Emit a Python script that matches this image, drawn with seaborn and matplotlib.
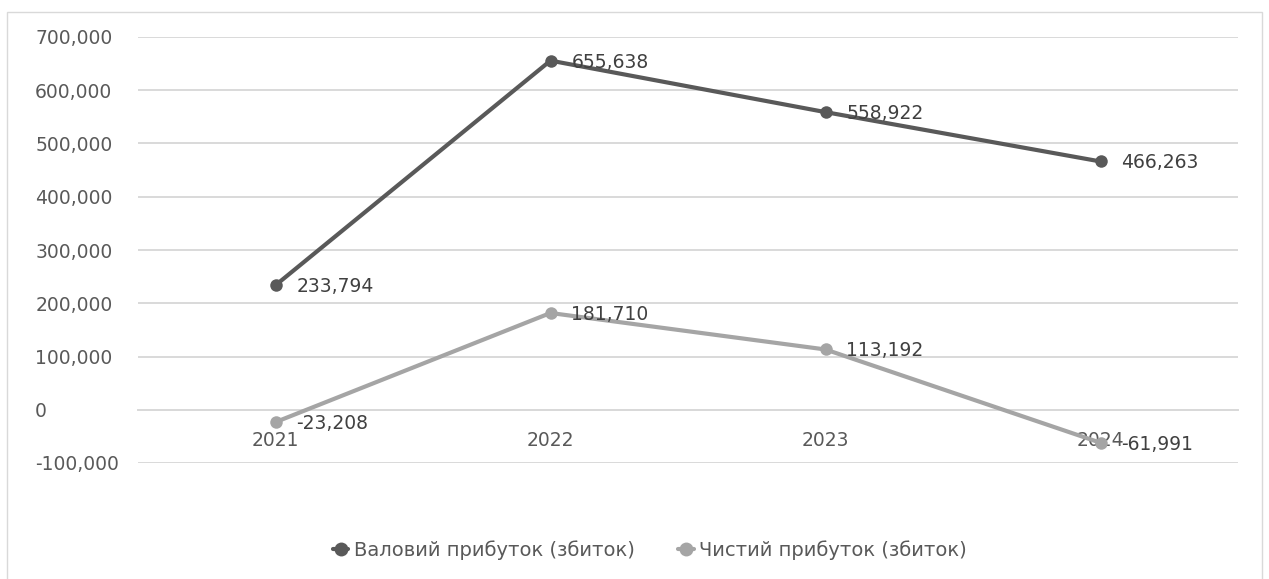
import matplotlib
matplotlib.use("Agg")
import matplotlib.pyplot as plt
import matplotlib.ticker as mticker
from matplotlib.patches import Rectangle
import seaborn as sns
import pandas as pd

years = ["2021", "2022", "2023", "2024"]
gross_profit = [233794, 655638, 558922, 466263]
net_profit = [-23208, 181710, 113192, -61991]
series_names = ["Валовий прибуток (збиток)", "Чистий прибуток (збиток)"]
y_ticks = [-100000, 0, 100000, 200000, 300000, 400000, 500000, 600000, 700000]

df = pd.DataFrame({
    "year": years * 2,
    "value": gross_profit + net_profit,
    "series": [series_names[0]] * 4 + [series_names[1]] * 4,
})
df["x"] = list(range(4)) * 2

sns.set_theme(style="white")
plt.rcParams["font.family"] = ["DejaVu Sans"]

colors = ["#595959", "#A5A5A5"]
fig = plt.figure(figsize=(12.69, 5.79), dpi=100)
ax = fig.add_axes([138 / 1269, 1 - 463 / 579, 1100 / 1269, 426 / 579])

sns.lineplot(data=df, x="x", y="value", hue="series", palette=colors,
             marker="o", markersize=9, markeredgewidth=0, linewidth=3,
             ax=ax, legend=False, zorder=3)

ax.set_xlim(-0.5, 3.5)
ax.set_ylim(-100000, 700000)
ax.set_yticks(y_ticks)
ax.yaxis.set_major_formatter(mticker.FuncFormatter(lambda v, p: f"{int(v):,}"))
ax.set_xticks(range(4))
ax.set_xticklabels(years)
ax.set_xlabel("")
ax.set_ylabel("")
ax.grid(axis="y", color="#D9D9D9", linewidth=1.4, zorder=0)
ax.grid(axis="x", visible=False)
for s in ["top", "right", "left"]:
    ax.spines[s].set_visible(False)
ax.spines["bottom"].set_position(("data", 0))
ax.spines["bottom"].set_color("#D9D9D9")
ax.spines["bottom"].set_linewidth(1.4)
ax.tick_params(axis="x", length=0, pad=15, labelsize=13.5, labelcolor="#595959")
ax.tick_params(axis="y", length=0, pad=74, labelsize=13.5, labelcolor="#595959")
for lab in ax.get_yticklabels():
    lab.set_horizontalalignment("left")

for vals, c in [(gross_profit, colors[0]), (net_profit, colors[1])]:
    for i, v in enumerate(vals):
        ax.annotate(f"{v:,}", (i, v), xytext=(15, -1), textcoords="offset points",
                    ha="left", va="center", fontsize=13.5, color="#404040", zorder=4)

handles = [plt.Line2D([], [], color=c, marker="o", markersize=10, linewidth=3,
                      markeredgewidth=0) for c in colors]
fig.legend(handles, series_names, loc="center", bbox_to_anchor=(650 / 1269, 1 - 550 / 579),
           ncol=2, frameon=False, fontsize=14, labelcolor="#595959",
           handlelength=0.8, handletextpad=0.3, columnspacing=2.2)

fig.patches.append(Rectangle((7 / 1269, -0.01), 1255 / 1269, 1 - 12 / 579 + 0.01,
                             transform=fig.transFigure, fill=False,
                             edgecolor="#D9D9D9", linewidth=1))

fig.savefig("out.png", dpi=100)
